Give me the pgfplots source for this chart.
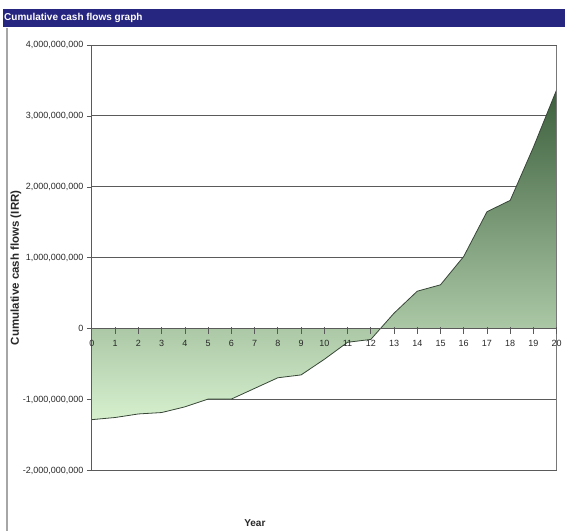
\documentclass[border=0pt]{standalone}
\usepackage{pgfplots}
\pgfplotsset{compat=1.18}
\usepackage{fontspec}
\setmainfont{Liberation Sans}
\definecolor{navybar}{RGB}{38,38,128}
\definecolor{gridc}{RGB}{90,90,90}
\definecolor{boxc}{RGB}{120,120,120}
\definecolor{gtop}{RGB}{60,95,60}
\definecolor{gmid}{RGB}{172,220,160}
\definecolor{gbot}{RGB}{214,240,206}
\definecolor{linec}{RGB}{55,70,55}
\definecolor{labc}{RGB}{40,40,40}
\pgfplotsset{
  layers/mylayers/.define layer set={axis background,axis grid,main,axis ticks,axis lines,axis tick labels,axis descriptions,axis foreground}{/pgfplots/layers/standard},
}
\begin{document}
\begin{tikzpicture}[x=1bp,y=1bp]
\path (0,0) rectangle (565,531);
% title bar
\fill[navybar] (3,504) rectangle (565,522);
\node[anchor=west,text=white,font=\fontsize{10bp}{12bp}\selectfont\bfseries,inner sep=0pt] at (4,513) {Cumulative cash flows graph};
% frame
\draw[gray!70,line width=1.2bp] (7,0) -- (7,503);
\begin{axis}[
  set layers=mylayers,
  at={(92bp,60bp)}, anchor=south west,
  scale only axis, width=465bp, height=426bp,
  xmin=0, xmax=20, ymin=-2000000000, ymax=4000000000,
  axis x line*=middle, axis y line*=left,
  hide obscured x ticks=false,
  scaled x ticks=false, scaled y ticks=false,
  xtick={0,...,20},
  xtick style={draw=none},
  xticklabel style={font=\fontsize{9bp}{10bp}\selectfont, text=labc, yshift=-3bp},
  ytick={-2000000000,-1000000000,0,1000000000,2000000000,3000000000,4000000000},
  yticklabels={{-2,000,000,000},{-1,000,000,000},{0},{1,000,000,000},{2,000,000,000},{3,000,000,000},{4,000,000,000}},
  yticklabel style={font=\fontsize{9bp}{10bp}\selectfont, text=labc},
  ytick style={draw=gridc, line width=0.7bp},
  tick align=outside, major tick length=5bp,
  ymajorgrids, grid style={draw=gridc, line width=0.9bp},
  y axis line style={draw=gridc, line width=0.9bp},
  x axis line style={draw=gridc, line width=0.9bp},
  /pgf/number format/assume math mode=true,
  clip=false,
]
\addplot[draw=none, top color=gtop, middle color=gmid, bottom color=gbot] coordinates {
(0,-1280000000) (1,-1250000000) (2,-1200000000) (3,-1180000000) (4,-1100000000)
(5,-990000000) (6,-990000000) (7,-840000000) (8,-690000000) (9,-650000000)
(10,-430000000) (11,-190000000) (12,-150000000) (13,220000000) (14,530000000)
(15,620000000) (16,1020000000) (17,1650000000) (18,1810000000) (19,2560000000)
(20,3370000000)} \closedcycle;
\addplot[draw=linec, line width=0.8bp, mark=none] coordinates {
(0,-1280000000) (1,-1250000000) (2,-1200000000) (3,-1180000000) (4,-1100000000)
(5,-990000000) (6,-990000000) (7,-840000000) (8,-690000000) (9,-650000000)
(10,-430000000) (11,-190000000) (12,-150000000) (13,220000000) (14,530000000)
(15,620000000) (16,1020000000) (17,1650000000) (18,1810000000) (19,2560000000)
(20,3370000000)};
\draw[boxc, line width=0.9bp] (rel axis cs:1,0) -- (rel axis cs:1,1);
\draw[gridc, line width=0.9bp] (rel axis cs:0,0) -- (rel axis cs:1,0);
\draw[gridc, line width=0.9bp] (rel axis cs:0,1) -- (rel axis cs:1,1);
\pgfplotsinvokeforeach{1,...,20}{\draw[gridc, line width=0.7bp] (axis cs:#1,28000000) -- (axis cs:#1,-70000000);}
\end{axis}
\node[rotate=90,font=\fontsize{11.5bp}{13bp}\selectfont\bfseries,text=labc] at (16,263) {Cumulative cash flows (IRR)};
\node[font=\fontsize{10bp}{12bp}\selectfont\bfseries,text=labc] at (255,8) {Year};
\end{tikzpicture}
\end{document}
